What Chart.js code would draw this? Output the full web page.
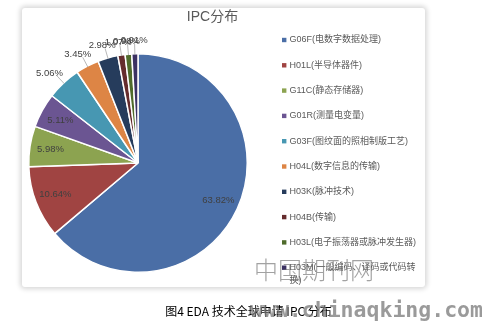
<!DOCTYPE html>
<html><head><meta charset="utf-8">
<script src="https://cdn.jsdelivr.net/npm/chart.js@4.4.0/dist/chart.umd.min.js"></script>
<style>
html,body{margin:0;padding:0;background:#fff;width:482px;height:325px;overflow:hidden;position:relative}
#card{position:absolute;left:22px;top:8px;width:403px;height:279px;background:#fff;border-radius:3px;box-shadow:0 0 5px 2px rgba(0,0,0,0.16)}
#c{position:absolute;left:0;top:0}
.cap{position:absolute;left:0;width:497px;top:302px;text-align:center;font:12px "Noto Sans CJK SC","Liberation Sans",sans-serif;color:#000;white-space:nowrap}
.wm1{position:absolute;left:254px;top:251px;font:300 24px "Noto Sans CJK SC",sans-serif;color:rgba(100,100,100,0.6);letter-spacing:0px;white-space:nowrap}
.wm2{position:absolute;left:250px;top:297px;font:bold 21.5px "DejaVu Sans Mono",monospace;color:rgba(120,120,120,0.75);white-space:nowrap}
</style></head>
<body>
<div id="card"></div>
<canvas id="c" width="482" height="325"></canvas>
<div class="cap">图4 EDA 技术全球申请 IPC 分布</div>
<div class="wm1">中国期刊网</div>
<div class="wm2">www.chinaqking.com</div>
<script>
const chartTitle = "IPC分布";
const categories = [
  "G06F(电数字数据处理)",
  "H01L(半导体器件)",
  "G11C(静态存储器)",
  "G01R(测量电变量)",
  "G03F(图纹面的照相制版工艺)",
  "H04L(数字信息的传输)",
  "H03K(脉冲技术)",
  "H04B(传输)",
  "H03L(电子振荡器或脉冲发生器)",
  "H03M(一般编码、译码或代码转换)"
];
const shares = [63.82, 10.64, 5.98, 5.11, 5.06, 3.45, 2.98, 1.07, 0.98, 0.91];
const colors = ["#4A6EA6","#A04442","#8CA350","#6B5592","#4797B2","#DD8545","#263C5C","#652C2D","#4F6B2B","#3C3263"];

const FONT_LAT = '"Liberation Sans","Noto Sans CJK SC",sans-serif';

const labelPlugin = {
  id: 'customDraw',
  afterDraw(chart) {
    const ctx = chart.ctx;
    const meta = chart.getDatasetMeta(0);
    ctx.save();
    // title
    ctx.fillStyle = '#595959';
    ctx.font = '14px ' + FONT_LAT;
    ctx.textAlign = 'center';
    ctx.textBaseline = 'middle';
    ctx.fillText(chartTitle, 212.5, 17);
    // data labels
    ctx.font = '9.5px ' + FONT_LAT;
    meta.data.forEach((arc, i) => {
      const p = arc.getProps(['x','y','startAngle','endAngle','outerRadius'], true);
      const mid = (p.startAngle + p.endAngle) / 2;
      const dx = Math.cos(mid), dy = Math.sin(mid);
      const R = p.outerRadius;
      const txt = shares[i].toFixed(2) + '%';
      ctx.fillStyle = '#404040';
      if (shares[i] >= 5.1) {
        ctx.textAlign = 'center';
        ctx.fillText(txt, p.x + dx * R * 0.81, p.y + dy * R * 0.81);
      } else {
        const tw = ctx.measureText(txt).width;
        const ax = p.x + dx * (R + 10), ay = p.y + dy * (R + 10);
        ctx.strokeStyle = '#a6a6a6';
        ctx.lineWidth = 0.8;
        ctx.beginPath();
        ctx.moveTo(p.x + dx * (R - 1), p.y + dy * (R - 1));
        ctx.lineTo(ax, ay);
        ctx.stroke();
        ctx.textAlign = 'center';
        ctx.fillText(txt, ax + dx * tw * 0.4, ay + dy * 3);
      }
    });
    // legend
    ctx.font = '9px ' + FONT_LAT;
    ctx.textAlign = 'left';
    const lx = 282, tx = 289.5, y0 = 40, step = 25.3, maxW = 131;
    categories.forEach((name, i) => {
      const y = y0 + i * step;
      ctx.fillStyle = colors[i];
      ctx.fillRect(lx, y - 2.2, 4.4, 4.4);
      ctx.fillStyle = '#595959';
      const lines = [];
      let cur = '';
      for (const ch of name) {
        if (ctx.measureText(cur + ch).width > maxW && cur) { lines.push(cur); cur = ch; }
        else cur += ch;
      }
      lines.push(cur);
      lines.forEach((ln, k) => {
        ctx.fillText(ln, tx, y + k * 13);
      });
    });
    ctx.restore();
  }
};

new Chart(document.getElementById('c'), {
  type: 'pie',
  data: {
    labels: categories,
    datasets: [{
      data: shares,
      backgroundColor: colors,
      borderColor: '#ffffff',
      borderWidth: 1.5
    }]
  },
  options: {
    responsive: false,
    animation: false,
    layout: { padding: { left: 28, right: 234, top: 53, bottom: 52 } },
    plugins: { legend: { display: false }, tooltip: { enabled: false }, title: { display: false } }
  },
  plugins: [labelPlugin]
});
</script>
</body></html>
